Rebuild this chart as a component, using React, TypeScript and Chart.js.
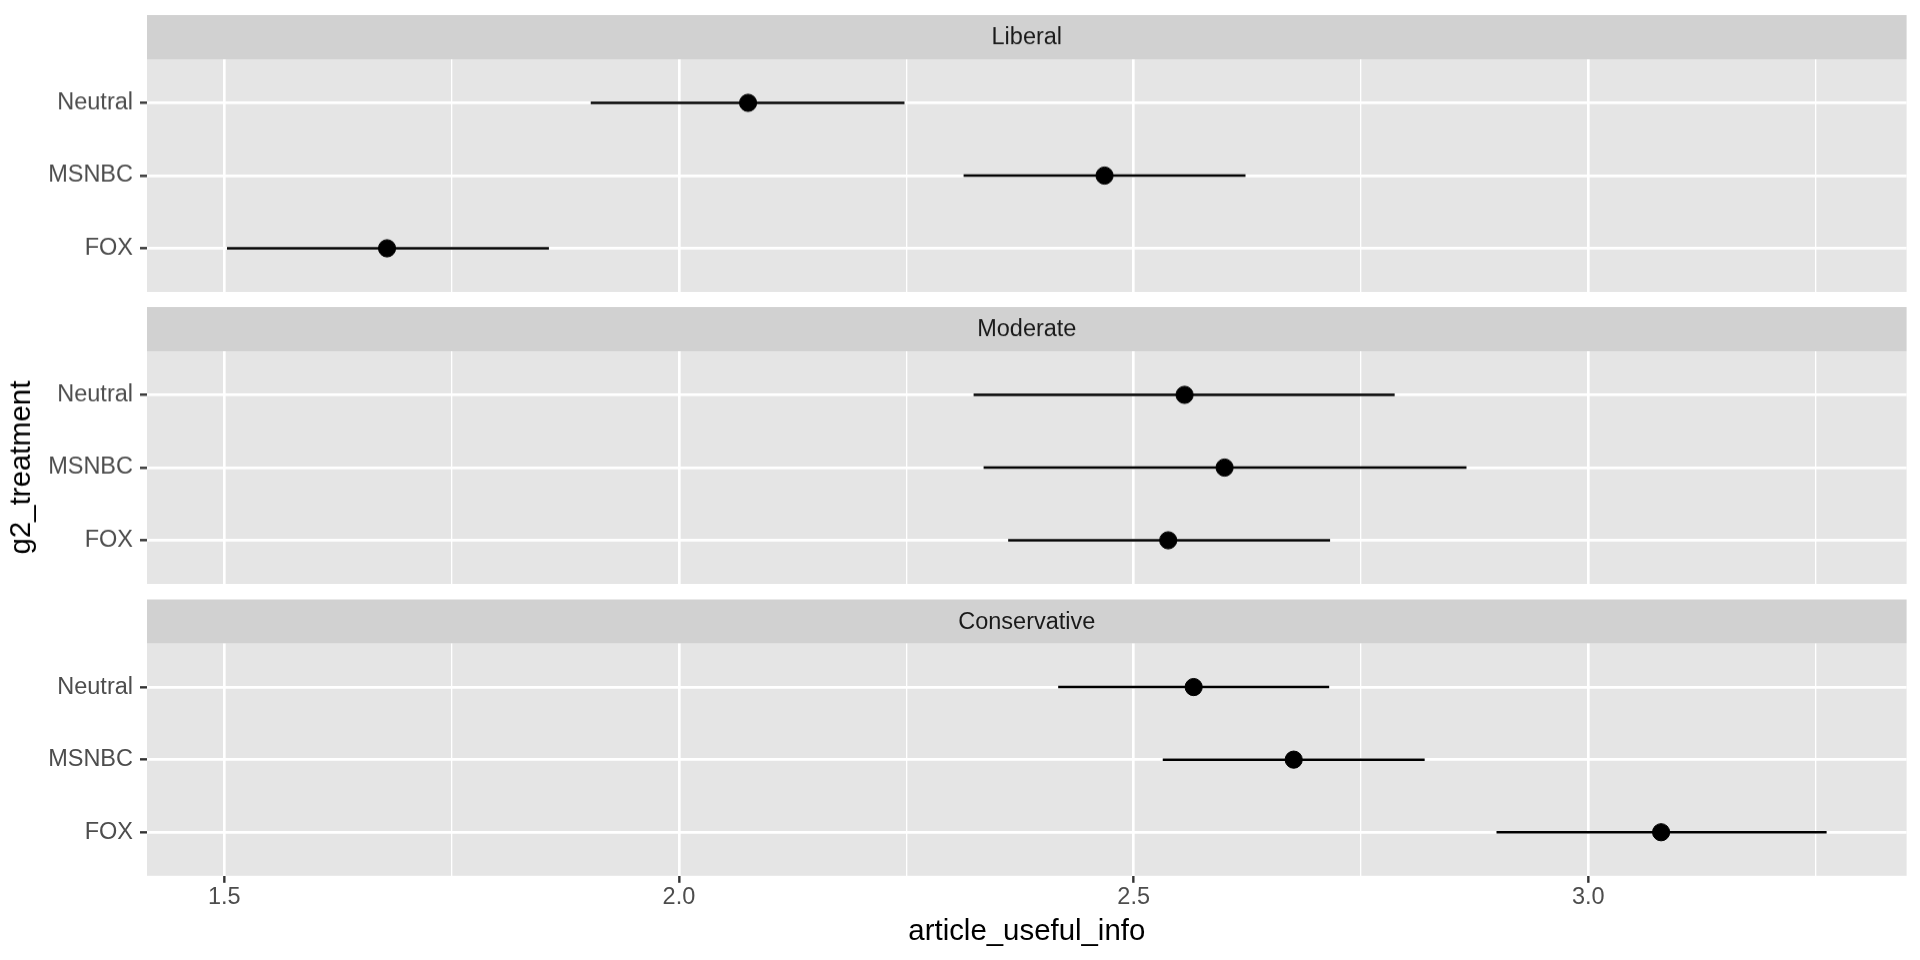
import React, { useEffect, useRef } from 'react';
import { Chart, registerables } from 'chart.js';

Chart.register(...registerables);

// ---- data ----
const treatments = ['FOX', 'MSNBC', 'Neutral'];
const ideologies = ['Liberal', 'Moderate', 'Conservative'];

const liberalMean = [1.679, 2.468, 2.076];
const liberalLow = [1.503, 2.313, 1.903];
const liberalHigh = [1.857, 2.623, 2.248];

const moderateMean = [2.538, 2.6, 2.556];
const moderateLow = [2.362, 2.335, 2.324];
const moderateHigh = [2.716, 2.866, 2.787];

const conservativeMean = [3.08, 2.676, 2.566];
const conservativeLow = [2.899, 2.532, 2.417];
const conservativeHigh = [3.262, 2.82, 2.715];

const xMajorTicks = [1.5, 2.0, 2.5, 3.0];
const xMinorTicks = [1.75, 2.25, 2.75, 3.25];
const xTitle = 'article_useful_info';
const yTitle = 'g2_treatment';

// ---- style ----
const FONT = "'Liberation Sans', Arial, Helvetica, sans-serif";
const PANEL_BG = '#E5E5E5';
const STRIP_BG = '#D1D1D1';
const STRIP_H = 44;
const TICK_FONT = 23.5;
const TITLE_FONT = 29.4;

const allLow = [...liberalLow, ...moderateLow, ...conservativeLow];
const allHigh = [...liberalHigh, ...moderateHigh, ...conservativeHigh];
const dataMin = Math.min(...allLow);
const dataMax = Math.max(...allHigh);
const span = dataMax - dataMin;
const xMin = dataMin - 0.05 * span;
const xMax = dataMax + 0.05 * span;

const panels = [
  { name: ideologies[0], mean: liberalMean, low: liberalLow, high: liberalHigh },
  { name: ideologies[1], mean: moderateMean, low: moderateLow, high: moderateHigh },
  { name: ideologies[2], mean: conservativeMean, low: conservativeLow, high: conservativeHigh },
];

// canvases overlap slightly (transparent), so each chart keeps room below its area
const layouts = [
  { top: 0, height: 313.5, padTop: 59, padBottom: 22, showX: false, showYTitle: false },
  { top: 300, height: 305.5, padTop: 51, padBottom: 22, showX: false, showYTitle: true },
  { top: 592, height: 368, padTop: 51.5, padBottom: 0, showX: true, showYTitle: false },
];

const isMajor = (v: number) => xMajorTicks.some((m) => Math.abs(m - v) < 1e-9);

const stripPlugin = {
  id: 'facetStrip',
  beforeDraw(chart: any, _args: any, opts: any) {
    const { ctx, chartArea: a } = chart;
    ctx.save();
    ctx.fillStyle = PANEL_BG;
    ctx.fillRect(a.left, a.top, a.right - a.left, a.bottom - a.top);
    ctx.fillStyle = STRIP_BG;
    ctx.fillRect(a.left, a.top - STRIP_H, a.right - a.left, STRIP_H);
    ctx.fillStyle = '#1A1A1A';
    ctx.font = `${TICK_FONT}px ${FONT}`;
    ctx.textAlign = 'center';
    ctx.textBaseline = 'middle';
    ctx.fillText(opts.label, (a.left + a.right) / 2, a.top - STRIP_H / 2 + 1);
    ctx.restore();
  },
};

function Panel({ index }: { index: number }) {
  const ref = useRef<HTMLCanvasElement | null>(null);
  const p = panels[index];
  const L = layouts[index];

  useEffect(() => {
    if (!ref.current) return;
    const errDatasets = treatments.map((_, i) => ({
      label: 'err' + i,
      data: [
        { x: p.low[i], y: i + 1 },
        { x: p.high[i], y: i + 1 },
      ],
      showLine: true,
      borderColor: '#000000',
      borderWidth: 2.5,
      pointRadius: 0,
      pointHoverRadius: 0,
      fill: false,
    }));
    const pointDataset = {
      label: 'mean',
      data: p.mean.map((m, i) => ({ x: m, y: i + 1 })),
      showLine: false,
      pointRadius: 8.6,
      pointHoverRadius: 8.6,
      backgroundColor: '#000000',
      borderColor: '#000000',
      borderWidth: 1,
    };

    const chart = new Chart(ref.current, {
      type: 'scatter',
      data: { datasets: [pointDataset, ...errDatasets] as any },
      plugins: [stripPlugin],
      options: {
        animation: false,
        responsive: false,
        devicePixelRatio: 1,
        events: [],
        layout: { padding: { left: 0, right: 13.4, top: L.padTop, bottom: L.padBottom } },
        plugins: {
          legend: { display: false },
          tooltip: { enabled: false },
          facetStrip: { label: p.name },
        } as any,
        scales: {
          x: {
            type: 'linear',
            min: xMin,
            max: xMax,
            afterBuildTicks: (s: any) => {
              s.ticks = [...xMajorTicks, ...xMinorTicks].sort((a, b) => a - b).map((v) => ({ value: v }));
            },
            afterFit: (s: any) => {
              s.height = L.showX ? 84.2 : 0;
            },
            grid: {
              color: '#FFFFFF',
              lineWidth: (c: any) => (c.tick && isMajor(c.tick.value) ? 2.67 : 1.33),
              drawTicks: L.showX,
              tickLength: 7,
              tickWidth: 2.4,
              tickColor: (c: any) => (c.tick && isMajor(c.tick.value) ? '#333333' : 'rgba(0,0,0,0)'),
            },
            border: { display: false },
            ticks: {
              display: L.showX,
              padding: 1,
              autoSkip: false,
              maxRotation: 0,
              color: '#4D4D4D',
              font: { family: FONT, size: TICK_FONT },
              callback: (v: any) => (isMajor(Number(v)) ? Number(v).toFixed(1) : ''),
            },
            title: {
              display: L.showX,
              text: xTitle,
              color: '#000000',
              font: { family: FONT, size: TITLE_FONT },
              padding: { top: 0, bottom: 10.4 },
            },
          },
          y: {
            type: 'linear',
            min: 0.4,
            max: 3.6,
            afterBuildTicks: (s: any) => {
              s.ticks = treatments.map((_, i) => ({ value: i + 1 }));
            },
            afterFit: (s: any) => {
              s.width = 147;
            },
            grid: {
              color: '#FFFFFF',
              lineWidth: 2.67,
              tickLength: 7,
              tickWidth: 2.4,
              tickColor: '#333333',
            },
            border: { display: false },
            ticks: {
              padding: 7,
              autoSkip: false,
              color: '#4D4D4D',
              font: { family: FONT, size: TICK_FONT },
              callback: (v: any) => treatments[Math.round(Number(v)) - 1] ?? '',
            },
            title: {
              display: L.showYTitle,
              text: yTitle,
              color: '#000000',
              font: { family: FONT, size: TITLE_FONT },
              padding: { top: 4.4, bottom: 0 },
            },
          },
        },
      } as any,
    });
    return () => chart.destroy();
  }, [index]);

  return (
    <canvas
      ref={ref}
      width={1920}
      height={L.height}
      style={{ position: 'absolute', left: 0, top: L.top, width: 1920, height: L.height, display: 'block' }}
    />
  );
}

export default function App() {
  return (
    <div
      style={{
        position: 'absolute',
        left: 0,
        top: 0,
        width: 1920,
        height: 960,
        background: '#FFFFFF',
        overflow: 'hidden',
      }}
    >
      {panels.map((_, i) => (
        <Panel key={i} index={i} />
      ))}
    </div>
  );
}
